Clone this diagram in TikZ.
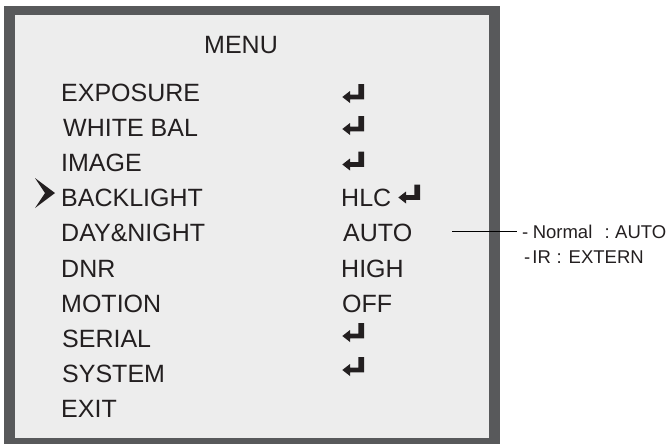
\documentclass[tikz,border=0pt]{standalone}
\usepackage{fontspec}
\setmainfont{Liberation Sans}
\definecolor{framegray}{HTML}{58595B}
\definecolor{panel}{HTML}{EDEDED}
\definecolor{ink}{HTML}{231F20}
\tikzset{
  item/.style={anchor=base west, inner sep=0pt, font=\fontsize{25}{25}\selectfont, text=ink},
  note/.style={anchor=base west, inner sep=0pt, font=\fontsize{18.5}{18.5}\selectfont, text=ink},
  conn/.style={draw=black, line width=1.3pt},
  enter/.pic={\fill[ink] (0,-7.5) -- (0,7.8) -- (-14,7.8) -- (-14,11.5) -- (-21.7,5.5) -- (-14,-0.5) -- (-14,3.2) -- (-5.7,3.2) -- (-5.7,-7.5) -- cycle;},
  chevron/.pic={\fill[ink] (0,-15) -- (20,0) -- (0,15) -- (10,0) -- cycle;},
}
\begin{document}
\begin{tikzpicture}[x=1pt,y=-1pt]
\useasboundingbox (0,0) rectangle (668,444);
% frame
\fill[framegray] (4,6) rectangle (500,444);
\fill[panel] (15,15) rectangle (489,438);
% title
\node[item] (menu) at (204,53) {MENU};
% left column
\node[item] (exposure) at (61,101)   {EXPOSURE};
\node[item] (white)    at (63,136.2) {WHITE BAL};
\node[item] (image)    at (61,171.4) {IMAGE};
\node[item] (back)     at (61,206.6) {BACKLIGHT};
\node[item] (day)      at (61,241.8) {DAY\&NIGHT};
\node[item] (dnr)      at (61,277)   {DNR};
\node[item] (motion)   at (61,312.2) {MOTION};
\node[item] (serial)   at (62,347.4) {SERIAL};
\node[item] (system)   at (62,382.6) {SYSTEM};
\node[item] (exit)     at (61,417.8) {EXIT};
% selection mark
\pic (sel) at (35,193) {chevron};
% right column
\pic (e1) at (364,91.5) {enter};
\pic (e2) at (364,123.5) {enter};
\pic (e3) at (364,159) {enter};
\node[item] (hlc)  at (341,206.6) {HLC};
\pic (e4) at (420,192) {enter};
\node[item] (auto) at (343,241.8) {AUTO};
\node[item] (high) at (341,277)   {HIGH};
\node[item] (off)  at (342,312.2) {OFF};
\pic (e5) at (364,330.5) {enter};
\pic (e6) at (364,364.5) {enter};
% notes
\node[note] (n1) at (522,238) {-\hspace{4.4pt}Normal\hspace{12.2pt}:\hspace{5.5pt}AUTO};
\node[note] (n2) at (524,263) {-\hspace{2.1pt}IR\hspace{5.6pt}:\hspace{7pt}EXTERN};
% connector (over the frame)
\coordinate (la) at (452,231.5);
\coordinate (lb) at (517,231.5);
\draw[conn] (la) -- (lb);
\end{tikzpicture}
\end{document}
